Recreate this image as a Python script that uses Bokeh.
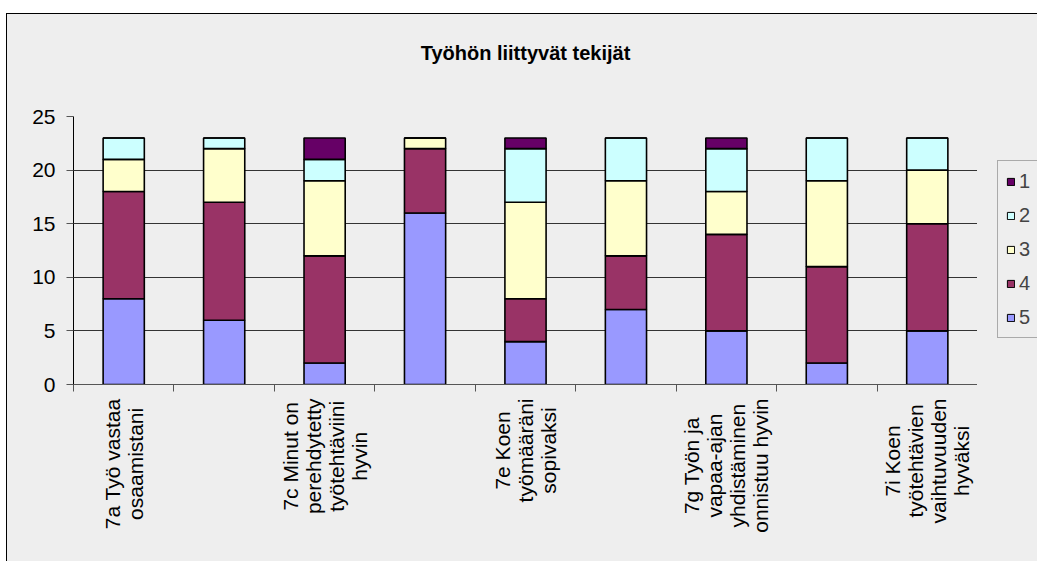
import numpy as np
from bokeh.plotting import figure
from bokeh.layouts import column, row
from bokeh.models import (FixedTicker, Legend, LegendItem, ColumnDataSource, Range1d,
                          LinearAxis)
from bokeh.core.properties import value
from bokeh.embed import file_html
from bokeh.resources import INLINE

title = "Työhön liittyvät tekijät"
categories = ["7a", "7b", "7c", "7d", "7e", "7f", "7g", "7h", "7i"]
tick_labels = [
    "7a Työ vastaa\nosaamistani",
    "",
    "7c Minut on\nperehdytetty\ntyötehtäviini\nhyvin",
    "",
    "7e Koen\ntyömääräni\nsopivaksi",
    "",
    "7g Työn ja\nvapaa-ajan\nyhdistäminen\nonnistuu hyvin",
    "",
    "7i Koen\ntyötehtävien\nvaihtuvuuden\nhyväksi",
]
series_names = ["5", "4", "3", "2", "1"]
s5 = [8, 6, 2, 16, 4, 7, 5, 2, 5]
s4 = [10, 11, 10, 6, 4, 5, 9, 9, 10]
s3 = [3, 5, 7, 1, 9, 7, 4, 8, 5]
s2 = [2, 1, 2, 0, 5, 4, 4, 4, 3]
s1 = [0, 0, 2, 0, 1, 0, 1, 0, 0]
y_ticks = [0, 5, 10, 15, 20, 25]
colors = ["#9999FF", "#993366", "#FFFFCC", "#CCFFFF", "#660066"]
stackers = ["s5", "s4", "s3", "s2", "s1"]

n = len(categories)
xs = list(np.arange(n) + 0.5)
src = ColumnDataSource(dict(x=xs, s5=s5, s4=s4, s3=s3, s2=s2, s1=s1))

BG = "#EEEEEE"
FONT = "Liberation Sans"
common = dict(output_backend="svg", toolbar_location=None,
              background_fill_alpha=0, border_fill_alpha=0, outline_line_color=None)

xr = Range1d(0, n)
# main chart
p = figure(width=970, height=380, x_range=xr, y_range=Range1d(0, 25), x_axis_type=None,
           min_border_left=66, min_border_right=0, min_border_top=102, min_border_bottom=10,
           **common)
p.title.text = ""

# title drawn as the label of an empty axis above the frame
tax = LinearAxis(ticker=FixedTicker(ticks=[]), axis_line_color=None,
                 major_tick_out=0, major_tick_in=0, minor_tick_out=0, minor_tick_in=0,
                 major_label_standoff=0, axis_label=title, axis_label_standoff=53,
                 axis_label_text_font=FONT, axis_label_text_font_size="20px",
                 axis_label_text_font_style="bold", axis_label_text_color="black")
p.add_layout(tax, "above")

# x axis: tick marks at category boundaries only
bax = LinearAxis(ticker=FixedTicker(ticks=[], minor_ticks=list(range(n + 1))),
                 axis_line_color="#555555", minor_tick_line_color="#555555",
                 minor_tick_out=7, minor_tick_in=0, major_tick_out=0, major_tick_in=0,
                 major_label_standoff=0)
p.add_layout(bax, "below")

r = p.vbar_stack(stackers, x="x", width=0.41, source=src,
                 color=colors, line_color="black", line_width=1.6)
for rr, c in zip(r, colors):
    rr.glyph.fill_color = c
    rr.glyph.line_color = "black"

p.yaxis.ticker = FixedTicker(ticks=y_ticks)
p.yaxis.major_tick_out = 7
p.yaxis.major_tick_in = 0
p.yaxis.minor_tick_line_color = None
p.yaxis.axis_line_color = "black"
p.yaxis.major_tick_line_color = "#555555"
p.yaxis.major_label_text_font = FONT
p.yaxis.major_label_text_font_size = "21px"
p.yaxis.major_label_text_color = "black"
p.yaxis.major_label_standoff = 11
p.ygrid.grid_line_color = "#333333"
p.ygrid.grid_line_width = 1

# legend panel to the right of the chart (hidden copies of the series supply the swatches)
pleg = figure(width=60, height=380, x_range=Range1d(0, 1), y_range=Range1d(0, 1),
              min_border=0, **common)
pleg.axis.visible = False
pleg.grid.visible = False
leg_renderers = pleg.vbar_stack(stackers, x="x", width=0.41, source=src,
                                color=colors, line_color="black", line_width=1)
for rr, c in zip(leg_renderers, colors):
    rr.glyph.fill_color = c
    rr.glyph.line_color = "black"
    rr.visible = False
items = [LegendItem(label=name, renderers=[rr])
         for name, rr in zip(series_names, leg_renderers)][::-1]
legend = Legend(items=items, location=(20, 46), orientation="vertical",
                background_fill_color=BG, background_fill_alpha=1,
                border_line_color="#666666", border_line_width=1,
                label_text_font=FONT, label_text_font_size="20px",
                glyph_width=9, glyph_height=9, label_height=24, label_width=12,
                spacing=10, padding=8, margin=0, label_standoff=4)
pleg.add_layout(legend, "center")

# category labels below the chart, sharing the x range
p2 = figure(width=1030, height=167, x_range=xr, y_range=Range1d(0, 1),
            min_border_left=66, min_border_right=60, min_border_top=4, min_border_bottom=0,
            **common)
p2.axis.visible = False
p2.grid.visible = False
lab_src = ColumnDataSource(dict(x=xs, y=[1] * n, text=tick_labels))
p2.text(x="x", y="y", text="text", source=lab_src, angle=np.pi / 2,
        anchor=value("center_right"), text_align="center",
        text_font=value(FONT), text_font_size="21px", text_color="black",
        text_line_height=1.0)

layout = column(row(p, pleg, spacing=0), p2, spacing=0, margin=(13, 0, 0, 6),
                styles={"border-top": "1px solid black", "border-left": "1px solid black",
                        "background-color": BG})

open("out.html", "w").write(file_html(layout, INLINE))
